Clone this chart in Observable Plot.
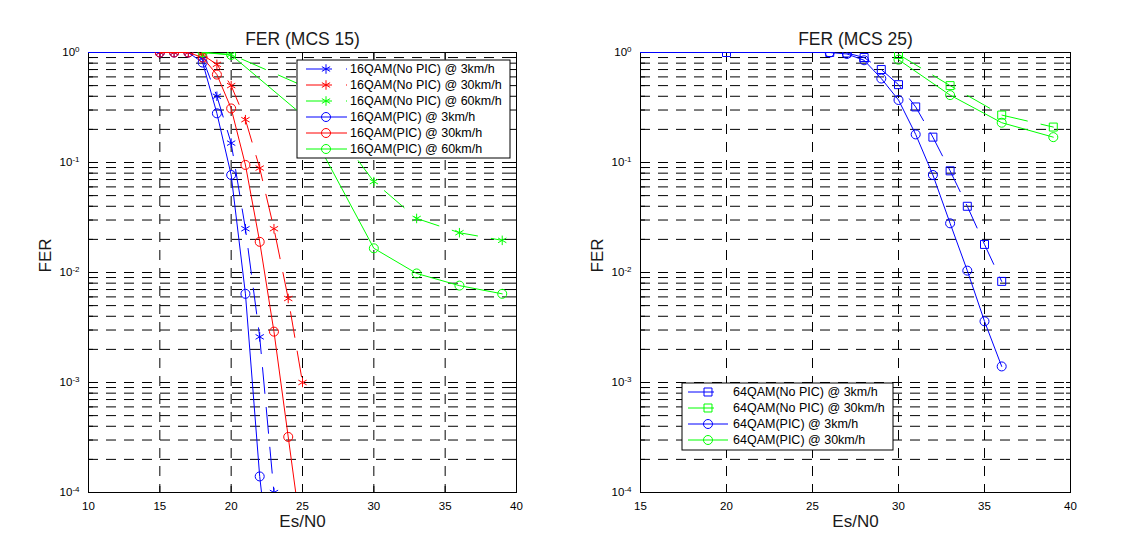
<!DOCTYPE html>
<html><head><meta charset="utf-8">
<script src="https://cdn.jsdelivr.net/npm/d3@7"></script>
<script src="https://cdn.jsdelivr.net/npm/@observablehq/plot@0.6"></script>
<style>
body{margin:0;background:#fff;font-family:"Liberation Sans",Arial,sans-serif;}
#wrap{position:relative;width:1137px;height:558px;overflow:hidden;background:#fff;}
#wrap svg{position:absolute;top:0;}
</style></head><body><div id="wrap"></div>
<script>
// ---------- tick / axis values ----------
const xTicksLeft = [10, 15, 20, 25, 30, 35, 40];
const xTicksRight = [15, 20, 25, 30, 35, 40];
const yDecades = [1e-4, 1e-3, 1e-2, 1e-1, 1];
const yMinorMult = [1, 2, 3, 4, 5, 6, 7, 8, 9];

// ---------- left chart: FER (MCS 15) ----------
const es16NoPic3 = [15, 16, 17, 18, 19, 20, 21, 22, 23];
const fer16NoPic3 = [1, 1, 1, 0.88, 0.40, 0.15, 0.025, 0.0026, 0.0001];
const es16NoPic30 = [15, 16, 17, 18, 19, 20, 21, 22, 23, 24, 25];
const fer16NoPic30 = [1, 1, 1, 0.95, 0.78, 0.50, 0.245, 0.089, 0.025, 0.0058, 0.001];
const es16NoPic60 = [18, 20, 25, 30, 33, 36, 39];
const fer16NoPic60 = [1, 0.96, 0.50, 0.067, 0.031, 0.023, 0.0196];
const es16Pic3 = [5, 15, 16, 17, 18, 19, 20, 21, 22, 23];
const fer16Pic3 = [1, 1, 1, 1, 0.81, 0.28, 0.077, 0.0064, 0.00014, 0.00001];
const es16Pic30 = [15, 16, 17, 18, 19, 20, 21, 22, 23, 24, 25];
const fer16Pic30 = [1, 1, 1, 0.90, 0.63, 0.31, 0.095, 0.019, 0.0029, 0.00032, 0.000035];
const es16Pic60 = [18, 20, 25, 30, 33, 36, 39];
const fer16Pic60 = [1, 0.95, 0.27, 0.0166, 0.0098, 0.0076, 0.0064];

// ---------- right chart: FER (MCS 25) ----------
const es64NoPic3 = [20, 26, 27, 28, 29, 30, 31, 32, 33, 34, 35, 36];
const fer64NoPic3 = [1, 1, 0.99, 0.90, 0.70, 0.51, 0.32, 0.17, 0.084, 0.040, 0.018, 0.0083];
const es64NoPic30 = [30, 33, 36, 39];
const fer64NoPic30 = [0.96, 0.50, 0.27, 0.21];
const es64Pic3 = [10, 26, 27, 28, 29, 30, 31, 32, 33, 34, 35, 36];
const fer64Pic3 = [1, 1, 0.97, 0.85, 0.58, 0.37, 0.18, 0.077, 0.028, 0.0104, 0.0036, 0.0014];
const es64Pic30 = [30, 33, 36, 39];
const fer64Pic30 = [0.86, 0.41, 0.23, 0.17];

const BLUE = "#0000ff", RED = "#ff0000", GREEN = "#00ff00";
const DASH = "26,14";
const GRID_DASH = "10,8";

const leftSeries = [
  {name: "16QAM(No PIC) @ 3km/h", x: es16NoPic3, y: fer16NoPic3, color: BLUE, symbol: "asterisk", dash: DASH},
  {name: "16QAM(No PIC) @ 30km/h", x: es16NoPic30, y: fer16NoPic30, color: RED, symbol: "asterisk", dash: DASH},
  {name: "16QAM(No PIC) @ 60km/h", x: es16NoPic60, y: fer16NoPic60, color: GREEN, symbol: "asterisk", dash: DASH},
  {name: "16QAM(PIC) @ 3km/h", x: es16Pic3, y: fer16Pic3, color: BLUE, symbol: "circle", dash: null},
  {name: "16QAM(PIC) @ 30km/h", x: es16Pic30, y: fer16Pic30, color: RED, symbol: "circle", dash: null},
  {name: "16QAM(PIC) @ 60km/h", x: es16Pic60, y: fer16Pic60, color: GREEN, symbol: "circle", dash: null}
];
const rightSeries = [
  {name: "64QAM(No PIC) @ 3km/h", x: es64NoPic3, y: fer64NoPic3, color: BLUE, symbol: "square", dash: DASH},
  {name: "64QAM(No PIC) @ 30km/h", x: es64NoPic30, y: fer64NoPic30, color: GREEN, symbol: "square", dash: DASH},
  {name: "64QAM(PIC) @ 3km/h", x: es64Pic3, y: fer64Pic3, color: BLUE, symbol: "circle", dash: null},
  {name: "64QAM(PIC) @ 30km/h", x: es64Pic30, y: fer64Pic30, color: GREEN, symbol: "circle", dash: null}
];

const yMinorAll = yDecades.slice(0, -1).flatMap(d => yMinorMult.map(m => m * d)).concat([1]);
const yGrid = yMinorAll.filter(v => v > 1.0001e-4 && v < 0.9999);
const isDecade = v => Math.abs(Math.log10(v) - Math.round(Math.log10(v))) < 1e-9;

function rows(s) { return s.x.map((d, i) => ({x: d, y: s.y[i]})); }

function panel({series, xDomain, xTicks, title, width, marginLeft, marginRight}) {
  const marks = [
    Plot.ruleY(yGrid, {stroke: "#000", strokeWidth: 1, strokeDasharray: GRID_DASH}),
    Plot.ruleX(xTicks.filter(v => v > xDomain[0] && v < xDomain[1]), {stroke: "#000", strokeWidth: 1, strokeDasharray: GRID_DASH}),
    Plot.frame({stroke: "#000", strokeWidth: 1}),
    Plot.axisX({anchor: "bottom", ticks: xTicks, tickSize: -6, label: null, tickFormat: d => String(d)}),
    Plot.axisX({anchor: "top", ticks: xTicks, tickSize: -6, label: null, tickFormat: () => ""}),
    Plot.axisY({anchor: "left", ticks: yMinorAll, tickSize: -5, label: null,
      tickFormat: v => isDecade(v) ? "10^" + Math.round(Math.log10(v)) : ""}),
    Plot.axisY({anchor: "right", ticks: yMinorAll, tickSize: -5, label: null, tickFormat: () => ""})
  ];
  for (const s of series) {
    const r = rows(s);
    marks.push(Plot.line(r, {x: "x", y: "y", stroke: s.color, strokeWidth: 1, strokeDasharray: s.dash, clip: true}));
    marks.push(Plot.dot(r, {x: "x", y: "y", stroke: s.color, symbol: s.symbol, r: 4.5, strokeWidth: 1, clip: true}));
  }
  marks.push(
    Plot.text([title], {frameAnchor: "top", dy: -20, fontSize: 17.5, fill: "#1a1a1a"}),
    Plot.text(["Es/N0"], {frameAnchor: "bottom", dy: 34, fontSize: 17, fill: "#1a1a1a"}),
    Plot.text(["FER"], {frameAnchor: "left", dx: -43, rotate: -90, fontSize: 17, fill: "#1a1a1a"})
  );
  const svg = Plot.plot({
    width, height: 558,
    marginTop: 52, marginBottom: 66, marginLeft, marginRight,
    style: {background: "white", fontFamily: '"Liberation Sans", Arial, sans-serif', fontSize: "11.5px", color: "#000"},
    x: {domain: xDomain},
    y: {type: "log", domain: [1e-4, 1]},
    marks
  });
  // superscript exponents for the decade labels
  d3.select(svg).selectAll('g[aria-label="y-axis tick label"] text').each(function() {
    const t = this.textContent;
    if (t.includes("^")) {
      const [base, exp] = t.split("^");
      const sel = d3.select(this);
      sel.text(null);
      sel.append("tspan").text(base);
      sel.append("tspan").attr("dy", "-0.55em").attr("font-size", "8px").text(exp);
    }
  });
  return svg;
}

const symbolMap = {asterisk: d3.symbolAsterisk, circle: d3.symbolCircle, square: d3.symbolSquare};

function legend(svg, series, box) {
  const g = d3.select(svg).append("g")
    .attr("font-family", '"Liberation Sans", Arial, sans-serif')
    .attr("font-size", "12.5px")
    .attr("text-anchor", "start");
  g.append("rect").attr("x", box.x).attr("y", box.y).attr("width", box.w).attr("height", box.h)
    .attr("fill", "white").attr("stroke", "black").attr("stroke-width", 1);
  series.forEach((s, i) => {
    const yy = box.row0 + i * box.dy;
    g.append("line").attr("x1", box.lx1).attr("x2", box.lx2).attr("y1", yy).attr("y2", yy)
      .attr("stroke", s.color).attr("stroke-width", 1).attr("stroke-dasharray", s.dash);
    g.append("path").attr("d", d3.symbol(symbolMap[s.symbol], Math.PI * 4.5 * 4.5)())
      .attr("transform", `translate(${box.mx},${yy})`).attr("fill", "none").attr("stroke", s.color).attr("stroke-width", 1);
    g.append("text").attr("x", box.tx).attr("y", yy).attr("dy", "0.35em").attr("text-anchor", "start").attr("fill", "#000").text(s.name);
  });
}

const wrap = document.getElementById("wrap");
const left = panel({series: leftSeries, xDomain: [10, 40], xTicks: xTicksLeft, title: "FER (MCS 15)", width: 568, marginLeft: 88, marginRight: 52});
left.style.left = "0px";
wrap.appendChild(left);
legend(left, leftSeries, {x: 297, y: 60, w: 213, h: 98, row0: 69, dy: 16, lx1: 306, lx2: 347, mx: 326, tx: 350});

const right = panel({series: rightSeries, xDomain: [15, 40], xTicks: xTicksRight, title: "FER (MCS 25)", width: 569, marginLeft: 72, marginRight: 67});
right.style.left = "568px";
wrap.appendChild(right);
legend(right, rightSeries, {x: 114, y: 383, w: 211, h: 67, row0: 392, dy: 16, lx1: 120, lx2: 160, mx: 140, tx: 165});
</script>
</body></html>
